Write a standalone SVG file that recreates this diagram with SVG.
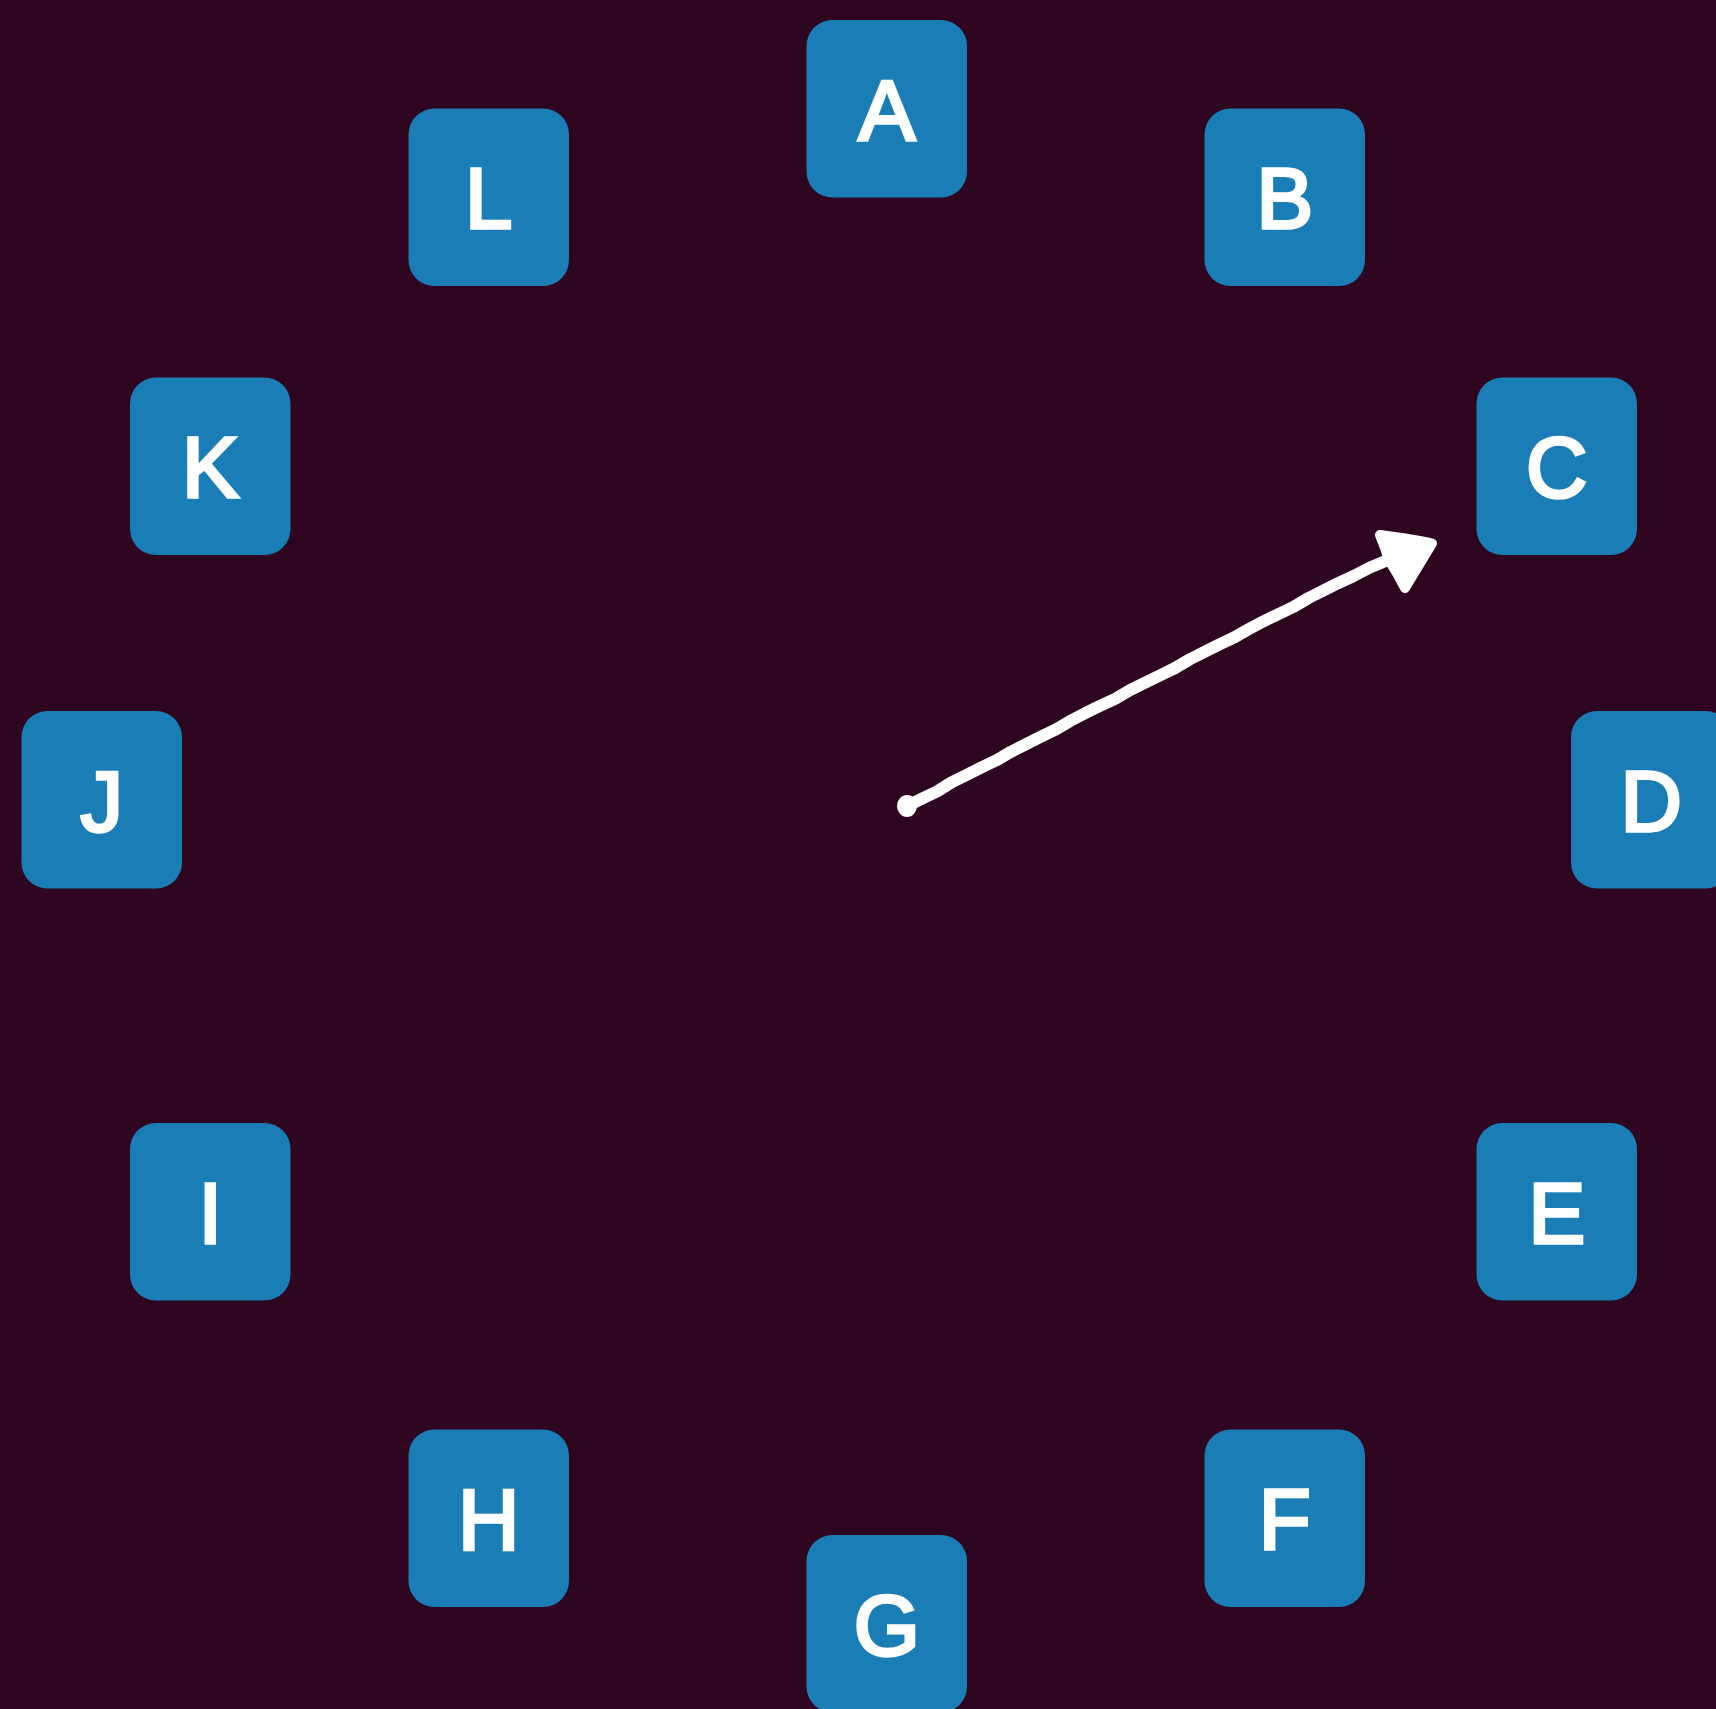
<svg xmlns="http://www.w3.org/2000/svg" width="1716" height="1709" viewBox="0 0 1716 1709">
  <style>
    .box { fill: #1b7db5; }
    .lbl { fill: #ffffff; stroke: #ffffff; stroke-width: 3.4; font-family: "Liberation Sans", Arial, sans-serif; font-size: 85px; text-anchor: middle; }
  </style>
  <rect x="0" y="0" width="1716" height="1709" fill="#2e0620"/>

  <g id="node-A"><rect class="box" x="806.5" y="20" width="160.5" height="177.5" rx="26"/><text class="lbl" x="886.75" y="140">A</text></g>
  <g id="node-B"><rect class="box" x="1204.5" y="108.5" width="160.5" height="177.5" rx="26"/><text class="lbl" x="1284.75" y="228">B</text></g>
  <g id="node-C"><rect class="box" x="1476.5" y="377.5" width="160.5" height="177.5" rx="26"/><text class="lbl" x="1556.75" y="497">C</text></g>
  <g id="node-D"><rect class="box" x="1571" y="711" width="160.5" height="177.5" rx="26"/><text class="lbl" x="1651.25" y="831">D</text></g>
  <g id="node-E"><rect class="box" x="1476.5" y="1123" width="160.5" height="177.5" rx="26"/><text class="lbl" x="1556.75" y="1243">E</text></g>
  <g id="node-F"><rect class="box" x="1204.5" y="1429.5" width="160.5" height="177.5" rx="26"/><text class="lbl" x="1284.75" y="1549">F</text></g>
  <g id="node-G"><rect class="box" x="806.5" y="1535" width="160.5" height="177.5" rx="26"/><text class="lbl" x="886.75" y="1655">G</text></g>
  <g id="node-H"><rect class="box" x="408.5" y="1429.5" width="160.5" height="177.5" rx="26"/><text class="lbl" x="488.75" y="1549">H</text></g>
  <g id="node-I"><rect class="box" x="130" y="1123" width="160.5" height="177.5" rx="26"/><text class="lbl" x="210.25" y="1243">I</text></g>
  <g id="node-J"><rect class="box" x="21.5" y="711" width="160.5" height="177.5" rx="26"/><text class="lbl" x="101.75" y="831">J</text></g>
  <g id="node-K"><rect class="box" x="130" y="377.5" width="160.5" height="177.5" rx="26"/><text class="lbl" x="210.25" y="497">K</text></g>
  <g id="node-L"><rect class="box" x="408.5" y="108.5" width="160.5" height="177.5" rx="26"/><text class="lbl" x="488.75" y="228">L</text></g>

  <g id="connectors">
    <ellipse cx="907" cy="806" rx="10" ry="11" fill="#ffffff"/>
    <path fill="none" stroke="#ffffff" stroke-width="12" stroke-linecap="round" stroke-linejoin="round" d="M908,805.5 L922,798.6 L937.2,791.4 L951.5,782.4 L966.2,775.1 L981,767.6 L996.6,760.2 L1011,751.8 L1025.6,744.3 L1041,736.6 L1056,729.4 L1070.5,720.8 L1085.1,713.2 L1100,705.9 L1115.6,698.6 L1130,690.1 L1144.7,682.8 L1160,675.4 L1175.1,668 L1189.5,659.5 L1204,652.1 L1219,644.6 L1234.5,637.3 L1249,629 L1263.5,621.3 L1279,613.8 L1294,606.7 L1308.5,598 L1323.2,590.7 L1338,583.2 L1353.6,576 L1370,567.5 L1388,560"/>
    <path fill="#ffffff" stroke="#ffffff" stroke-width="10" stroke-linejoin="round" d="M1432,543.5 Q1418,540 1380,535 Q1385,547 1389,560 Q1398,574 1405,588 Z"/>
  </g>
</svg>
